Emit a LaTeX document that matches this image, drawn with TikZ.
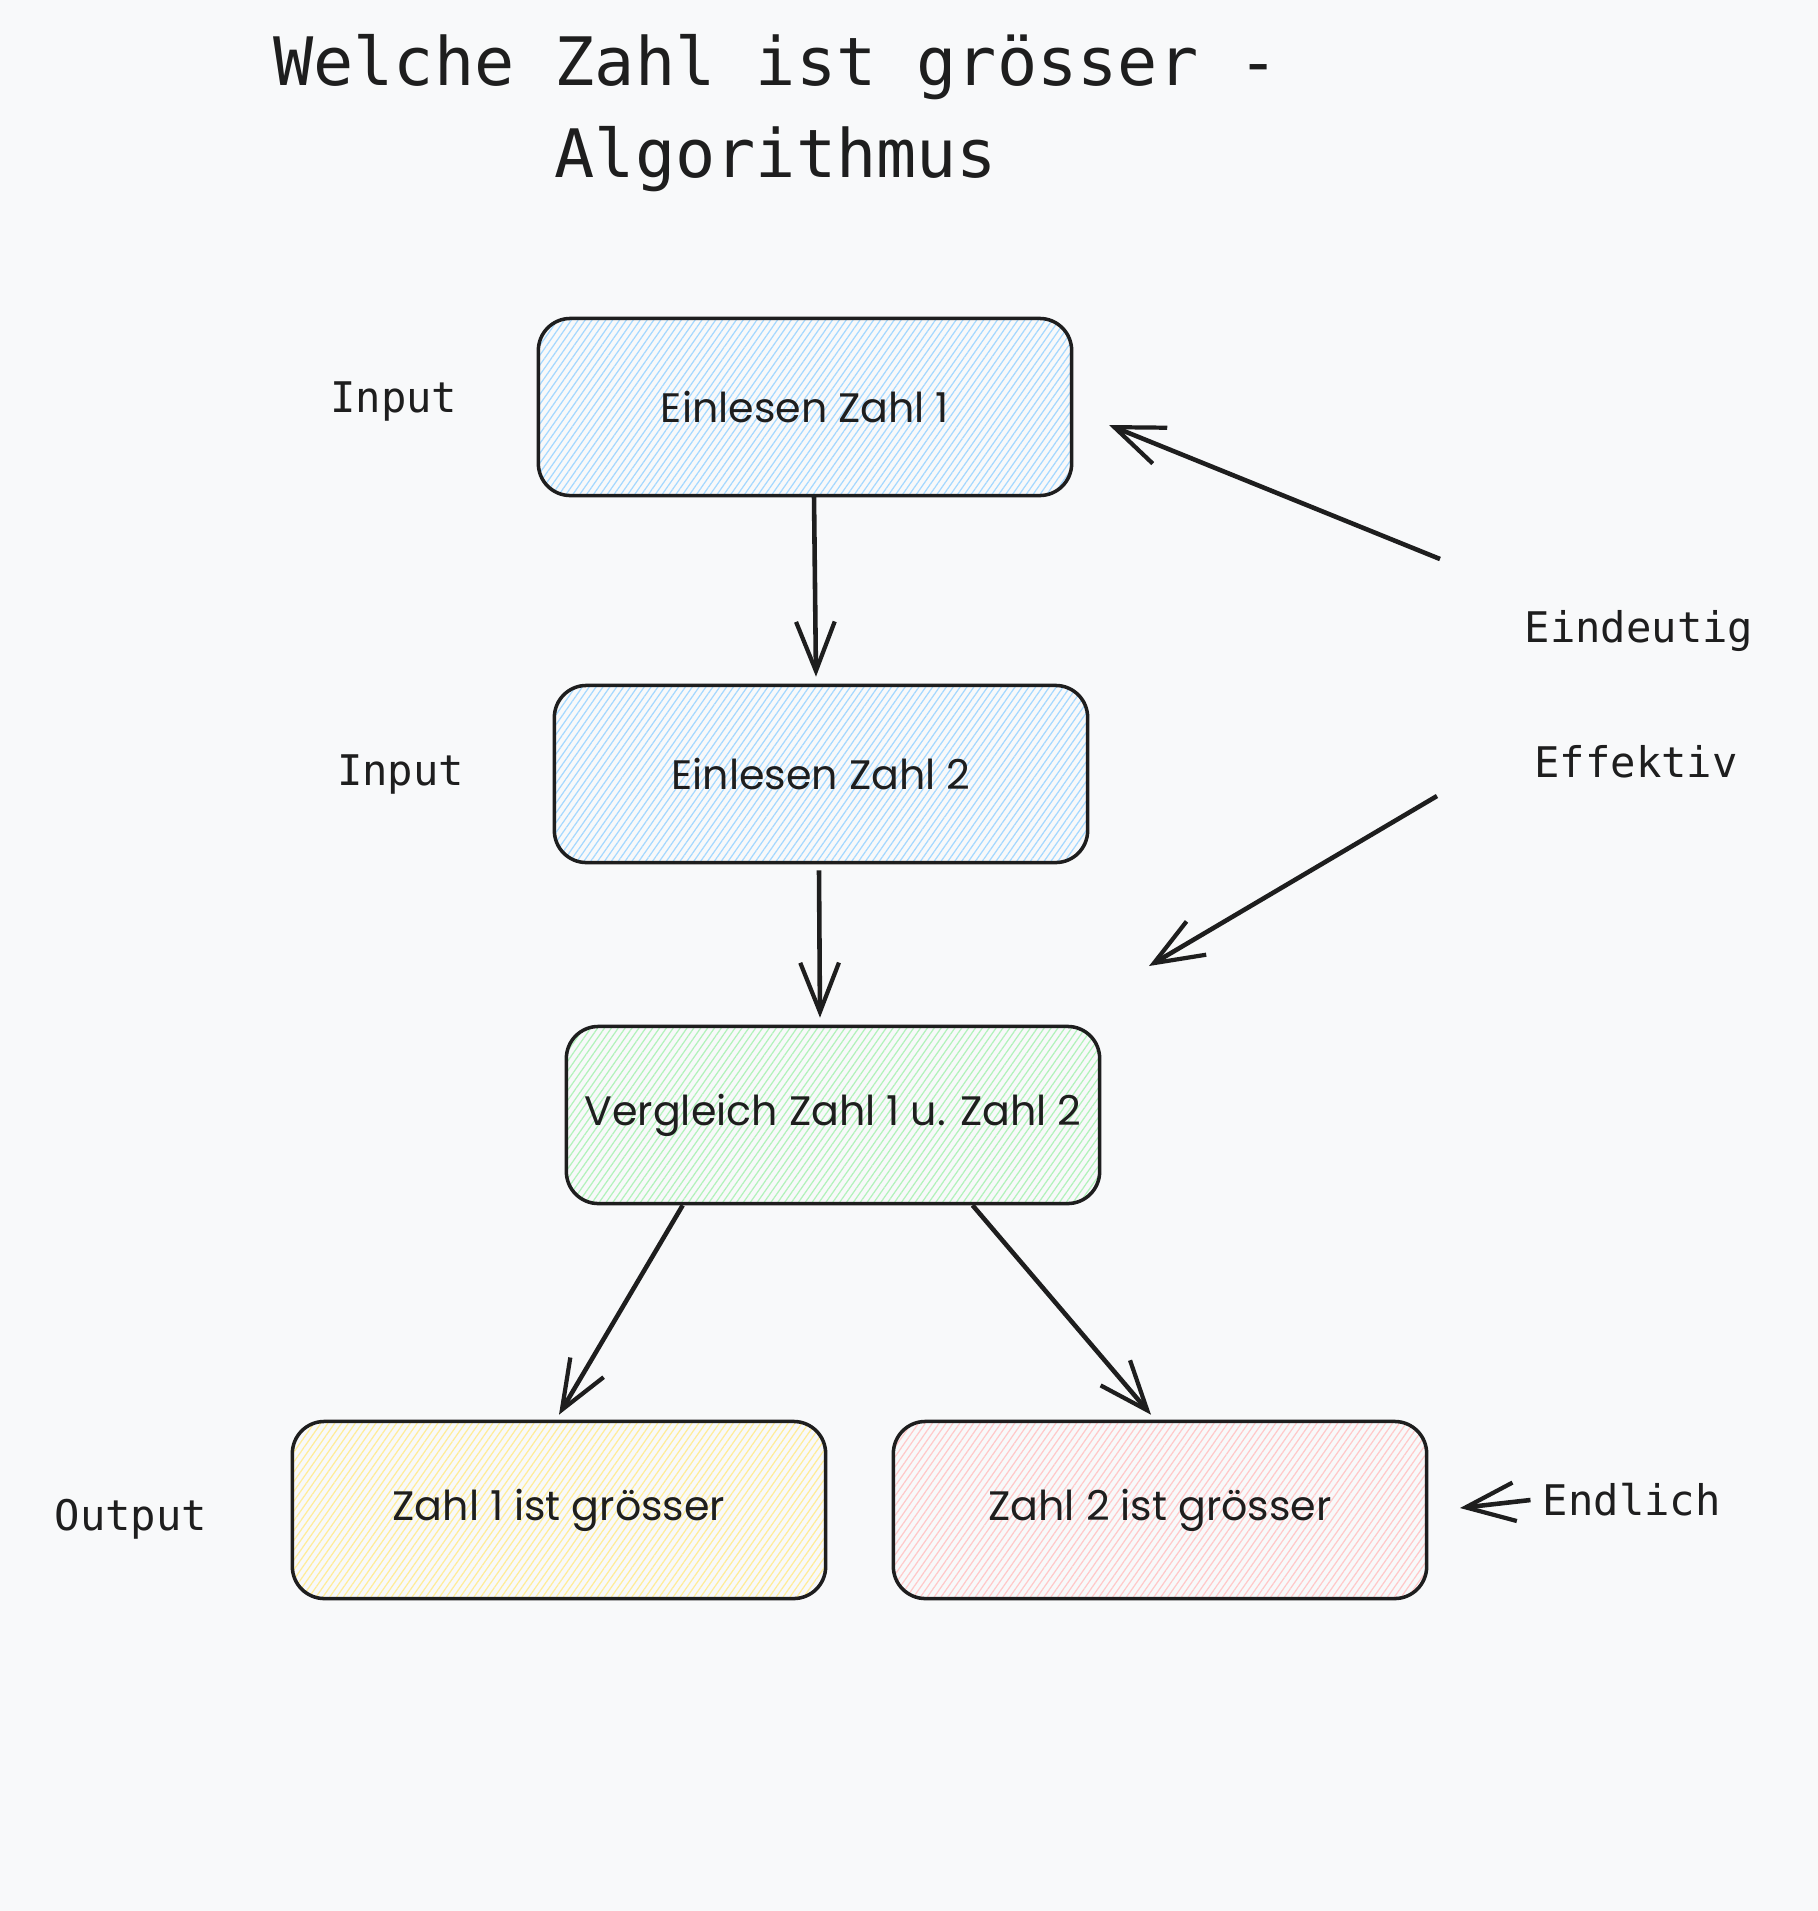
\documentclass[tikz,border=0pt]{standalone}
\usepackage{fontspec}
\setmainfont{Poppins}
\setmonofont{DejaVu Sans Mono}
\usetikzlibrary{arrows.meta,positioning,patterns.meta,calc}
\definecolor{canvas}{RGB}{248,249,250}
\definecolor{ink}{RGB}{30,30,30}
\definecolor{hblue}{RGB}{165,216,255}
\definecolor{hgreen}{RGB}{178,242,187}
\definecolor{hyellow}{RGB}{255,236,153}
\definecolor{hred}{RGB}{255,201,201}

\begin{document}
\begin{tikzpicture}[
    x=0.01cm, y=-0.01cm,
    box/.style={rectangle, draw=ink, line width=1pt, rounded corners=0.32cm, minimum width=5.33cm, minimum height=1.77cm, align=center, text=ink, font=\fontsize{11.7}{14}\selectfont},
    hatch/.style={pattern={Lines[angle=55,distance=1.6pt,line width=0.35pt]}, pattern color=#1},
    lbl/.style={text=ink, font=\ttfamily\fontsize{12}{14}\selectfont},
    arrow/.style={-{Straight Barb[length=14pt,width=11pt,line width=1.2pt]}, line width=1.3pt, draw=ink}
]
\useasboundingbox[fill=canvas] (0,0) rectangle (1818,1911);

\node[text=ink, font=\ttfamily\fontsize{19}{26}\selectfont, align=center] (title) at (776,113) {Welche Zahl ist grösser -\\Algorithmus};

\node[box, hatch=hblue] (zahl1) at (805,407) {Einlesen Zahl 1};
\node[box, hatch=hblue] (zahl2) at (821,774) {Einlesen Zahl 2};
\node[box, hatch=hgreen] (vgl) at (833,1115) {Vergleich Zahl 1 u. Zahl 2};
\node[box, hatch=hyellow] (gross1) at (559,1510) {Zahl 1 ist grösser};
\node[box, hatch=hred] (gross2) at (1160,1510) {Zahl 2 ist grösser};

\node[lbl, left=0.68cm of zahl1, yshift=0.06cm] (in1) {Input};
\node[lbl, left=0.76cm of zahl2] (in2) {Input};
\node[lbl, left=0.71cm of gross1, yshift=-0.09cm] (out) {Output};
\node[lbl] (eindeutig) at (1639,631) {Eindeutig};
\node[lbl] (effektiv) at (1636,762) {Effektiv};
\node[lbl, right=1.02cm of gross2, yshift=0.1cm] (endlich) {Endlich};

\coordinate (eind) at (1440,559);
\coordinate (eindtip) at (1109,425);
\coordinate (eff) at (1437,796);
\coordinate (efftip) at (1149,966);
\coordinate (endtip) at (1460,1508);

\draw[arrow] ([xshift=0.09cm]zahl1.south) -- ([xshift=-0.05cm,yshift=0.07cm]zahl2.north);
\draw[arrow] ([xshift=-0.02cm,yshift=-0.06cm]zahl2.south) -- ([xshift=-0.13cm,yshift=0.07cm]vgl.north);
\draw[arrow] ($(vgl.south west)!0.22!(vgl.south east)$) -- ([yshift=0.05cm]gross1.north);
\draw[arrow] ($(vgl.south west)!0.76!(vgl.south east)$) -- ([xshift=-0.09cm,yshift=0.05cm]gross2.north);
\draw[arrow] (eind) -- (eindtip);
\draw[arrow] (eff) -- (efftip);
\draw[arrow] (endlich.west) -- (endtip);
\end{tikzpicture}
\end{document}
